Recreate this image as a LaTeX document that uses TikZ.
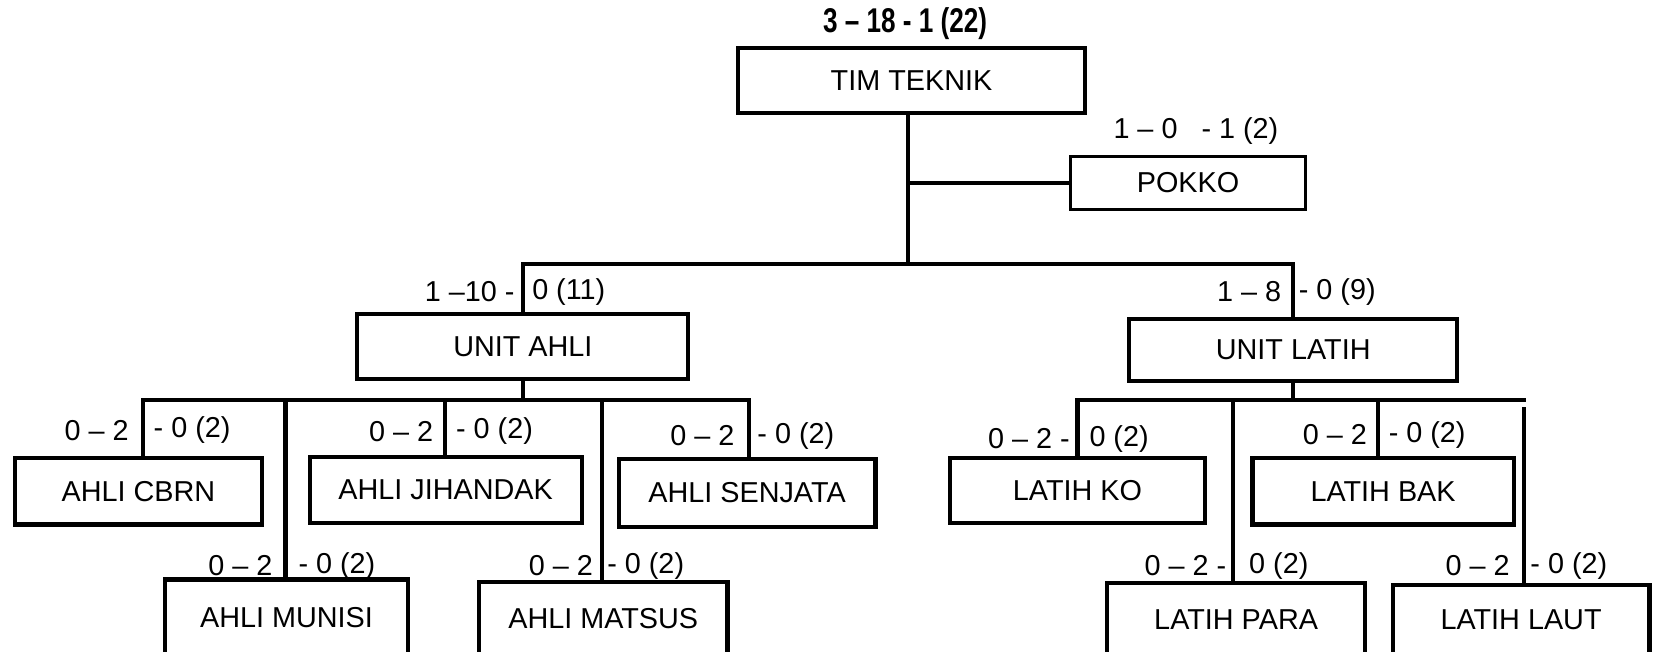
\documentclass[tikz,border=0pt]{standalone}
\usepackage{fontspec}
\setmainfont{Liberation Sans}
\tikzset{
  unit/.style={draw, line width=2.2pt, inner sep=0pt, font=\fontsize{15.5}{18}\selectfont},
  conn/.style={line width=2.2pt},
  lbl/.style={inner sep=0pt, font=\fontsize{15.5}{18}\selectfont},
}

\begin{document}
\begin{tikzpicture}[x=0.02cm,y=-0.02cm]
\useasboundingbox (0,0) rectangle (1568,616);
% top level
\node[unit, minimum width=6.56cm, minimum height=1.24cm] (tim) at (862,76) {TIM TEKNIK};
\node (tim-l) at (856,22) {\scalebox{0.76}[1]{\fontsize{18.5}{20}\selectfont\bfseries 3 – 18 - 1 (22)}};
\node[unit, line width=1.6pt, minimum width=4.46cm, minimum height=1cm] (pokko) at (1123.5,173) {POKKO};
\node[lbl] (pokko-l) at (1131,124) {1 – 0\ \ \ - 1 (2)};
\coordinate (bar) at (859,250);
\draw[conn] (tim.south -| bar) -- (bar);
\draw[conn] (pokko.west -| bar) -- (pokko.west);
% units
\node[unit, minimum width=6.26cm, minimum height=1.22cm] (ahli) at (494.5,327.5) {UNIT AHLI};
\node[unit, minimum width=6.2cm, minimum height=1.16cm] (latih) at (1223,331) {UNIT LATIH};
\draw[conn] (ahli.north) -- (ahli.north |- bar) -- (latih.north |- bar) -- (latih.north);
\node[lbl, anchor=east] (ahli-l) at (487,276) {1 –10 -};
\node[lbl, anchor=west] (ahli-r) at (503,276) {0 (11)};
\node[lbl, anchor=east] (latih-l) at (1212,276) {1 – 8};
\node[lbl, anchor=west] (latih-r) at (1228,276) {- 0 (9)};
% unit ahli
\node[unit, minimum width=4.68cm, minimum height=1.26cm] (cbrn) at (131,464.5) {AHLI CBRN};
\node[unit, minimum width=5.14cm, minimum height=1.26cm] (jihandak) at (421.5,463.5) {AHLI JIHANDAK};
\node[unit, minimum width=4.86cm, minimum height=1.28cm] (senjata) at (706.5,466) {AHLI SENJATA};
\node[unit, minimum width=4.6cm, minimum height=1.44cm] (munisi) at (271,584) {AHLI MUNISI};
\node[unit, minimum width=4.7cm, minimum height=1.4cm] (matsus) at (570.5,585) {AHLI MATSUS};
\coordinate (cbrn-b) at (135,378);
\coordinate (munisi-b) at (270,378);
\coordinate (jihandak-b) at (421,378);
\coordinate (matsus-b) at (569,378);
\coordinate (senjata-b) at (708,378);
\draw[conn] (ahli.south) -- (ahli.south |- cbrn-b);
\draw[conn] (cbrn-b |- cbrn.north) -- (cbrn-b) -- (senjata-b) -- (senjata-b |- senjata.north);
\draw[conn] (munisi-b) -- (munisi-b |- munisi.north);
\draw[conn] (jihandak-b) -- (jihandak-b |- jihandak.north);
\draw[conn] (matsus-b) -- (matsus-b |- matsus.north);
\node[lbl, anchor=east] (cbrn-l) at (122,407) {0 – 2};
\node[lbl, anchor=west] (cbrn-r) at (145,407) {- 0 (2)};
\node[lbl, anchor=east] (jihandak-l) at (410,408) {0 – 2};
\node[lbl, anchor=west] (jihandak-r) at (431,408) {- 0 (2)};
\node[lbl, anchor=east] (senjata-l) at (695,412) {0 – 2};
\node[lbl, anchor=west] (senjata-r) at (716,412) {- 0 (2)};
\node[lbl, anchor=east] (munisi-l) at (258,535) {0 – 2};
\node[lbl, anchor=west] (munisi-r) at (282,535) {- 0 (2)};
\node[lbl, anchor=east] (matsus-l) at (561,535) {0 – 2};
\node[lbl, anchor=west] (matsus-r) at (574,535) {- 0 (2)};
% unit latih
\node[unit, minimum width=4.84cm, minimum height=1.24cm] (ko) at (1019,464) {LATIH KO};
\node[unit, minimum width=4.94cm, minimum height=1.26cm] (bak) at (1308,464.5) {LATIH BAK};
\node[unit, minimum width=4.88cm, minimum height=1.38cm] (para) at (1169,585.5) {LATIH PARA};
\node[unit, minimum width=4.86cm, minimum height=1.34cm] (laut) at (1438.5,586.5) {LATIH LAUT};
\coordinate (ko-b) at (1019,378);
\coordinate (para-b) at (1166,378);
\coordinate (bak-b) at (1303,378);
\coordinate (latih-e) at (1443,378);
\coordinate (laut-b) at (1441,385);
\draw[conn] (latih.south) -- (latih.south |- ko-b);
\draw[conn] (ko-b |- ko.north) -- (ko-b) -- (latih-e);
\draw[conn] (para-b) -- (para-b |- para.north);
\draw[conn] (bak-b) -- (bak-b |- bak.north);
\draw[conn] (laut-b) -- (laut-b |- laut.north);
\node[lbl, anchor=east] (ko-l) at (1012,415) {0 – 2 -};
\node[lbl, anchor=west] (ko-r) at (1030,415) {0 (2)};
\node[lbl, anchor=east] (bak-l) at (1293,411) {0 – 2};
\node[lbl, anchor=west] (bak-r) at (1313,411) {- 0 (2)};
\node[lbl, anchor=east] (para-l) at (1160,535) {0 – 2 -};
\node[lbl, anchor=west] (para-r) at (1181,535) {0 (2)};
\node[lbl, anchor=east] (laut-l) at (1428,535) {0 – 2};
\node[lbl, anchor=west] (laut-r) at (1447,535) {- 0 (2)};
\end{tikzpicture}
\end{document}
